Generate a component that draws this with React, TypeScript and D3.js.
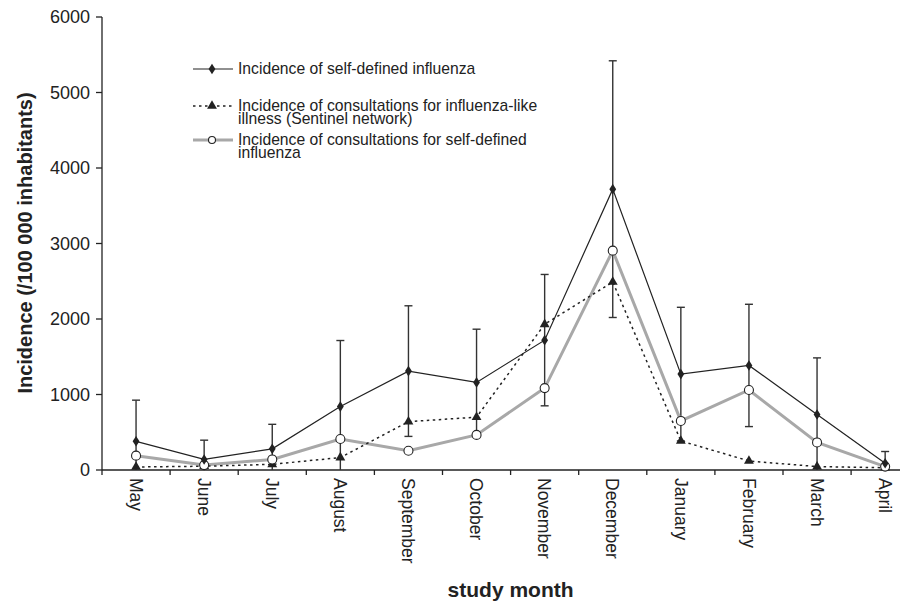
import React, { useEffect, useRef } from "react";
import * as d3 from "d3";

const width = 909;
const height = 604;

// study months (May to April)
const months = [
  "May",
  "June",
  "July",
  "August",
  "September",
  "October",
  "November",
  "December",
  "January",
  "February",
  "March",
  "April",
];

// incidence of self-defined influenza, with error bar half-widths
const selfDefined = [380, 140, 280, 840, 1310, 1160, 1720, 3720, 1270, 1385, 735, 90];
const selfDefinedErr = [545, 255, 325, 875, 865, 705, 870, 1700, 885, 810, 750, 155];

// sentinel network ILI consultations
const sentinel = [40, 50, 75, 165, 640, 700, 1930, 2490, 385, 120, 45, 30];

// consultations for self-defined influenza
const consultSelf = [190, 65, 140, 410, 255, 465, 1085, 2905, 650, 1060, 365, 45];

const yTicks = [0, 1000, 2000, 3000, 4000, 5000, 6000];

const legendItems = [
  { key: "self", lines: ["Incidence of self-defined influenza"] },
  {
    key: "sentinel",
    lines: ["Incidence of consultations for influenza-like", "illness (Sentinel network)"],
  },
  {
    key: "consult",
    lines: ["Incidence of consultations for self-defined", "influenza"],
  },
];

const FONT = "'Liberation Sans', Arial, Helvetica, sans-serif";
const INK = "#222";
const GRAY = "#a8a8a8";

function App() {
  const ref = useRef<SVGSVGElement>(null);

  useEffect(() => {
    const svg = d3.select(ref.current);
    svg.selectAll("*").remove();

    const left = 102;
    const step = 68.1;
    const x = d3
      .scaleBand<string>()
      .domain(months)
      .range([left, left + step * months.length])
      .padding(0);
    const y = d3.scaleLinear().domain([0, 6000]).range([470, 17]);
    const cx = (m: string) => (x(m) as number) + x.bandwidth() / 2;
    const axisRight = 900;

    const g = svg.append("g").attr("font-family", FONT);

    // y axis
    g.append("line")
      .attr("x1", left)
      .attr("x2", left)
      .attr("y1", y(0))
      .attr("y2", y(6000))
      .attr("stroke", INK)
      .attr("stroke-width", 1.3);
    yTicks.forEach((t) => {
      g.append("line")
        .attr("x1", left - 6)
        .attr("x2", left)
        .attr("y1", y(t))
        .attr("y2", y(t))
        .attr("stroke", INK)
        .attr("stroke-width", 1.3);
      g.append("text")
        .attr("x", left - 12)
        .attr("y", y(t))
        .attr("dy", "0.36em")
        .attr("text-anchor", "end")
        .attr("font-size", 18)
        .attr("fill", INK)
        .text(t);
    });

    // x axis
    g.append("line")
      .attr("x1", left)
      .attr("x2", axisRight)
      .attr("y1", y(0))
      .attr("y2", y(0))
      .attr("stroke", INK)
      .attr("stroke-width", 1.3);
    months.forEach((m) => {
      const bx = x(m) as number;
      if (bx <= axisRight) {
        g.append("line")
          .attr("x1", bx)
          .attr("x2", bx)
          .attr("y1", y(0))
          .attr("y2", y(0) + 5)
          .attr("stroke", INK)
          .attr("stroke-width", 1.3);
      }
      g.append("text")
        .attr("transform", `translate(${cx(m)},${y(0) + 8}) rotate(90)`)
        .attr("dy", "0.36em")
        .attr("font-size", 17.5)
        .attr("fill", INK)
        .text(m);
    });

    // axis titles
    g.append("text")
      .attr("transform", `translate(32,243) rotate(-90)`)
      .attr("text-anchor", "middle")
      .attr("font-size", 20)
      .attr("font-weight", "bold")
      .attr("fill", INK)
      .text("Incidence (/100 000 inhabitants)");
    g.append("text")
      .attr("x", left + (step * months.length) / 2)
      .attr("y", 597)
      .attr("text-anchor", "middle")
      .attr("font-size", 21)
      .attr("font-weight", "bold")
      .attr("fill", INK)
      .text("study month");

    // error bars on self-defined influenza
    const eb = g.append("g").attr("stroke", "#333").attr("stroke-width", 1.4);
    months.forEach((m, i) => {
      const hi = selfDefined[i] + selfDefinedErr[i];
      const lo = selfDefined[i] - selfDefinedErr[i];
      const px = cx(m);
      eb.append("line")
        .attr("x1", px)
        .attr("x2", px)
        .attr("y1", y(hi))
        .attr("y2", y(Math.max(0, lo)));
      eb.append("line")
        .attr("x1", px - 4)
        .attr("x2", px + 4)
        .attr("y1", y(hi))
        .attr("y2", y(hi));
      if (lo > 0) {
        eb.append("line")
          .attr("x1", px - 4)
          .attr("x2", px + 4)
          .attr("y1", y(lo))
          .attr("y2", y(lo));
      }
    });

    const line = d3
      .line<number>()
      .x((_, i) => cx(months[i]))
      .y((d) => y(d));

    g.append("path")
      .attr("d", line(consultSelf))
      .attr("fill", "none")
      .attr("stroke", GRAY)
      .attr("stroke-width", 3);
    g.append("path")
      .attr("d", line(sentinel))
      .attr("fill", "none")
      .attr("stroke", INK)
      .attr("stroke-width", 1.5)
      .attr("stroke-dasharray", "2.5,3.5");
    g.append("path")
      .attr("d", line(selfDefined))
      .attr("fill", "none")
      .attr("stroke", INK)
      .attr("stroke-width", 1.2);

    const diamond = d3.symbol(d3.symbolDiamond, 40);
    const triangle = d3.symbol(d3.symbolTriangle, 42);

    const drawDiamond = (sel: any, px: number, py: number) =>
      sel
        .append("path")
        .attr("d", diamond())
        .attr("transform", `translate(${px},${py}) scale(1,0.9)`)
        .attr("fill", INK);
    const drawTriangle = (sel: any, px: number, py: number) =>
      sel
        .append("path")
        .attr("d", triangle())
        .attr("transform", `translate(${px},${py})`)
        .attr("fill", INK);
    const drawCircle = (sel: any, px: number, py: number) =>
      sel
        .append("circle")
        .attr("cx", px)
        .attr("cy", py)
        .attr("r", 4.5)
        .attr("fill", "#fff")
        .attr("stroke", INK)
        .attr("stroke-width", 1.1);

    months.forEach((m, i) => {
      drawTriangle(g, cx(m), y(sentinel[i]));
    });
    months.forEach((m, i) => {
      drawCircle(g, cx(m), y(consultSelf[i]));
    });
    months.forEach((m, i) => {
      drawDiamond(g, cx(m), y(selfDefined[i]));
    });

    // legend
    const lg = g.append("g");
    const legendY = [69, 106, 140];
    const lx1 = 193;
    const lx2 = 233;
    const mx = (lx1 + lx2) / 2 - 1;
    legendItems.forEach((item, k) => {
      const ly = legendY[k];
      const seg = lg
        .append("line")
        .attr("x1", lx1)
        .attr("x2", lx2)
        .attr("y1", ly)
        .attr("y2", ly);
      if (item.key === "self") {
        seg.attr("stroke", INK).attr("stroke-width", 1.2);
        drawDiamond(lg, mx, ly);
      } else if (item.key === "sentinel") {
        seg
          .attr("stroke", INK)
          .attr("stroke-width", 1.5)
          .attr("stroke-dasharray", "2.5,3.5");
        drawTriangle(lg, mx, ly);
      } else {
        seg.attr("stroke", GRAY).attr("stroke-width", 3);
        lg.append("circle")
          .attr("cx", mx)
          .attr("cy", ly)
          .attr("r", 3.5)
          .attr("fill", "#fff")
          .attr("stroke", INK)
          .attr("stroke-width", 1.1);
      }
      const t = lg
        .append("text")
        .attr("x", 238)
        .attr("y", ly + 5)
        .attr("font-size", 15.7)
        .attr("fill", INK);
      item.lines.forEach((s, j) => {
        t.append("tspan")
          .attr("x", 238)
          .attr("dy", j === 0 ? 0 : 13)
          .text(s);
      });
    });
  }, []);

  return (
    <svg
      ref={ref}
      width={width}
      height={height}
      style={{ position: "absolute", left: 0, top: 0, background: "#fff" }}
    />
  );
}

export default App;
